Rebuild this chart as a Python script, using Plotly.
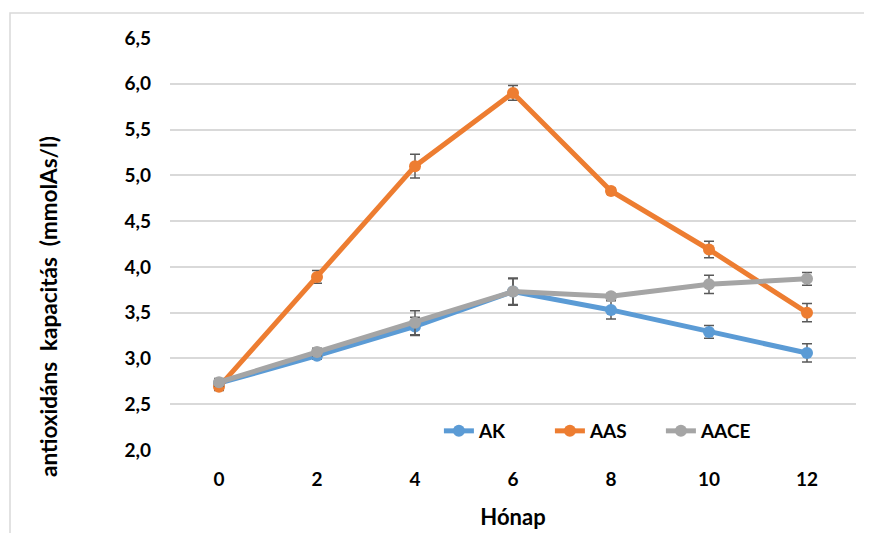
import plotly.graph_objects as go

months = ["0", "2", "4", "6", "8", "10", "12"]
ak = [2.73, 3.03, 3.35, 3.73, 3.53, 3.29, 3.06]
ak_err = [0.04, 0.04, 0.10, 0.14, 0.10, 0.07, 0.10]
aas = [2.69, 3.89, 5.10, 5.90, 4.83, 4.19, 3.50]
aas_err = [0.04, 0.07, 0.13, 0.08, 0.03, 0.09, 0.10]
aace = [2.74, 3.07, 3.39, 3.73, 3.68, 3.81, 3.87]
aace_err = [0.04, 0.04, 0.13, 0.15, 0.03, 0.10, 0.07]
ytick_vals = [2.0, 2.5, 3.0, 3.5, 4.0, 4.5, 5.0, 5.5, 6.0, 6.5]
ytick_text = ["2,0", "2,5", "3,0", "3,5", "4,0", "4,5", "5,0", "5,5", "6,0", "6,5"]
x_title = "Hónap"
y_title = "antioxidáns\u00a0 kapacitás\u00a0 (mmolAs/l)"

series = [
    ("AK", ak, ak_err, "#5B9BD5"),
    ("AAS", aas, aas_err, "#ED7D31"),
    ("AACE", aace, aace_err, "#A5A5A5"),
]

fig = go.Figure()
for name, vals, err, col in series:
    fig.add_trace(go.Scatter(
        x=months, y=vals, name=name, mode="lines+markers",
        line=dict(color=col, width=5),
        marker=dict(color=col, size=12),
        error_y=dict(type="data", array=err, visible=True,
                     color="#595959", thickness=1.5, width=5),
    ))

# the page body adds an 8px margin; the figure fits inside the window
W, H = 856, 525
L, R, T, B = 162, 8, 30, 83
pw = W - L - R
ph = H - T - B
FONT = "Lato, Open Sans, sans-serif"

fig.update_layout(
    width=W, height=H,
    margin=dict(l=L, r=R, t=T, b=B, autoexpand=False),
    paper_bgcolor="white", plot_bgcolor="white",
    font=dict(family=FONT, size=19, color="#000000"),
    showlegend=True,
    legend=dict(orientation="h", x=0.392, y=0.0, xanchor="left", yanchor="bottom",
                bgcolor="white", font=dict(size=19, family=FONT, weight="bold"),
                traceorder="normal", entrywidth=66, entrywidthmode="pixels"),
    xaxis=dict(
        type="category", range=[-0.5, len(months) - 0.5],
        showgrid=False, showline=False, zeroline=False,
        automargin=False, ticks="", ticklabelstandoff=16,
        tickfont=dict(size=19, family=FONT, weight="bold"),
        title=dict(text="<b>" + x_title + "</b>", font=dict(size=22, family=FONT), standoff=20),
    ),
    yaxis=dict(
        range=[2.0, 6.5], tickvals=ytick_vals, ticktext=ytick_text,
        showgrid=True, gridcolor="#D9D9D9", gridwidth=1.5,
        zeroline=False, showline=False, ticks="", automargin=False,
        tickfont=dict(size=19, family=FONT, weight="bold"),
        ticklabelstandoff=18,
    ),
)

# y-axis title, placed as in the reference (centred lower than the plot area)
fig.add_annotation(
    text="<b>" + y_title + "</b>", textangle=-90,
    xref="paper", yref="paper",
    x=(40 - L) / pw, y=1 - (299 - T) / ph,
    xanchor="center", yanchor="middle", showarrow=False,
    font=dict(size=22.5, family=FONT, color="#000000"),
)

# outer chart border (light gray)
fig.add_shape(type="rect", xref="paper", yref="paper",
              x0=(2 - L) / pw, x1=(W + 5 - L) / pw,
              y0=-(H + 5 - T - ph) / ph, y1=1 + (T - 5) / ph,
              line=dict(color="#D9D9D9", width=1.5), fillcolor="rgba(0,0,0,0)",
              layer="below")

fig.write_html("out.html")
